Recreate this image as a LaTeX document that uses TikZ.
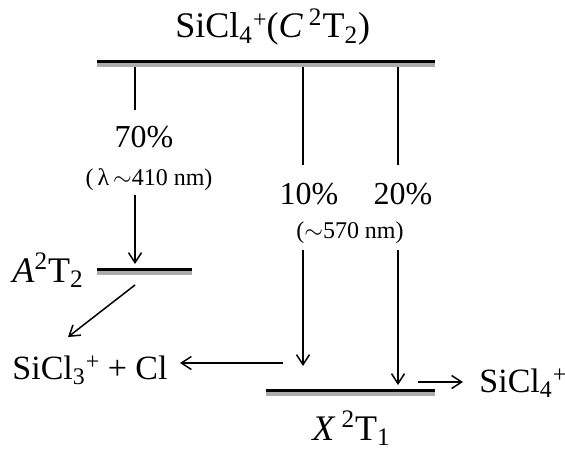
\documentclass[tikz,border=0pt]{standalone}
\usepackage{fontspec}
\setmainfont{Liberation Serif}
\usetikzlibrary{arrows.meta}

\newcommand{\ionplus}{\raisebox{0.62ex}{\fontsize{12}{12}\selectfont +}}

\begin{document}
\begin{tikzpicture}[
  x=0.5pt, y=-0.5pt,
  >={Straight Barb[length=5pt,width=6.5pt]},
  lvl/.style={line width=1.5pt, black},
  lvlshade/.style={line width=2pt, gray!65},
  arr/.style={->, line width=0.75pt},
  stem/.style={line width=0.75pt},
  big/.style={font=\fontsize{18}{21}\selectfont, inner sep=0pt},
  species/.style={font=\fontsize{17}{20}\selectfont, inner sep=0pt},
  pct/.style={font=\fontsize{16}{19}\selectfont, inner sep=0pt},
  wave/.style={font=\fontsize{12}{14}\selectfont, inner sep=0pt},
]
\useasboundingbox (0,0) rectangle (565,448);

% levels
\coordinate (Cl) at (97,61.5);  \coordinate (Cr) at (435,61.5);
\coordinate (Al) at (97,269);   \coordinate (Ar) at (192,269);
\coordinate (Xl) at (266,390);  \coordinate (Xr) at (435,390);
\foreach \l/\r in {Cl/Cr, Al/Ar, Xl/Xr} {
  \draw[lvlshade] ([yshift=-1.75pt]\l) -- ([yshift=-1.75pt]\r);
  \draw[lvl] (\l) -- (\r);
}

% labels
\node[big, anchor=base west] (stC) at (175,38) {SiCl\textsubscript{4}\ionplus(\textit{C}\,\textsuperscript{2}T\textsubscript{2})};
\node[big, anchor=base west] (stA) at (12,282) {\textit{A}\textsuperscript{2}T\textsubscript{2}};
\node[big, anchor=base west] (stX) at (312,440) {\textit{X}\,\textsuperscript{2}T\textsubscript{1}};
\node[species, anchor=base west] (frag) at (12,379) {SiCl\textsubscript{3}\ionplus\ + Cl};
\node[species, anchor=base west] (ion) at (479,392) {SiCl\textsubscript{4}\ionplus};

\node[pct, anchor=base] (p70) at (144,148) {70\%};
\node[pct, anchor=base] (p10) at (309,205) {10\%};
\node[pct, anchor=base] (p20) at (403,205) {20\%};
\node[wave, anchor=base] (w410) at (149,185) {(\,λ\,$\sim$410 nm)};
\node[wave, anchor=base] (w570) at (350,238) {($\sim$570 nm)};

% points on the paths
\coordinate (c70) at (135,67);  \coordinate (c70e) at (135,110);
\coordinate (c10) at (303,67);  \coordinate (c10e) at (303,165);
\coordinate (c20) at (398,67);  \coordinate (c20e) at (398,165);
\coordinate (a70s) at (135,195); \coordinate (a70e) at (135,264);
\coordinate (a10s) at (303,250); \coordinate (a10e) at (303,366);
\coordinate (a20s) at (398,250); \coordinate (a20e) at (398,385);
\coordinate (dA) at (135,285);   \coordinate (dAe) at (68,337);
\coordinate (lC) at (283,363);   \coordinate (lCe) at (180,363);
\coordinate (rX) at (418,382);   \coordinate (rXe) at (463,382);

\draw[stem] (c70) -- (c70e);
\draw[stem] (c10) -- (c10e);
\draw[stem] (c20) -- (c20e);
\draw[arr] (a70s) -- (a70e);
\draw[arr] (a10s) -- (a10e);
\draw[arr] (a20s) -- (a20e);
\draw[arr] (dA) -- (dAe);
\draw[arr] (lC) -- (lCe);
\draw[arr] (rX) -- (rXe);

\end{tikzpicture}
\end{document}
